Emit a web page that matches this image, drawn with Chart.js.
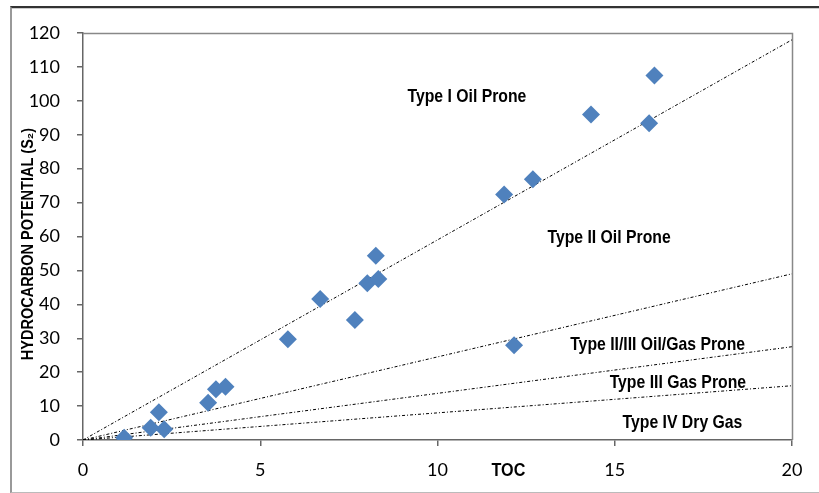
<!DOCTYPE html>
<html lang="en">
<head>
    <meta charset="UTF-8">
    <title>Hydrocarbon Potential vs TOC</title>
    <script src="https://cdn.jsdelivr.net/npm/chart.js"></script>
    <style>
        html, body { margin: 0; padding: 0; background: #fff; }
        #wrap { position: relative; width: 819px; height: 493px; overflow: hidden; }
        #frame { position: absolute; left: 10px; top: 6px; width: 900px; height: 484px;
                 border-top: 2px solid #333; border-left: 2px solid #999; border-bottom: 1px solid #bbb; }
        #frame2 { position: absolute; left: 12px; top: 8px; width: 900px; height: 0; border-top: 1px solid #ccc; }
        #chart { position: absolute; left: 0; top: 0; }
    </style>
</head>
<body>
<div id="wrap">
    <div id="frame"></div>
    <div id="frame2"></div>
    <canvas id="chart" width="819" height="493"></canvas>
</div>
<script>
    // sample points
    var toc = [1.16, 1.91, 2.14, 2.29, 3.53, 3.75, 4.02, 5.78, 6.69, 7.67, 8.02, 8.33, 8.26, 11.88, 12.69, 14.33, 15.97, 16.12, 12.16];
    var s2  = [0.7, 3.6, 8.2, 3.2, 11.0, 15.0, 15.7, 29.7, 41.6, 35.4, 46.2, 47.5, 54.3, 72.4, 76.9, 96.0, 93.4, 107.5, 27.9];

    // kerogen type boundary lines: from origin to S2 value at TOC = 20
    var boundaryToc = [0, 20];
    var boundaryEnds = [118, 49, 27.5, 16];

    var zoneNames = ['Type I Oil Prone', 'Type II Oil Prone', 'Type II/III Oil/Gas Prone', 'Type III Gas Prone', 'Type IV Dry Gas'];
    var zoneToc = [10.83, 14.84, 16.21, 16.78, 16.91];
    var zoneS2 = [101.1, 59.6, 28.0, 16.8, 5.0];

    var xTicks = [0, 5, 10, 15, 20];
    var yTicks = [0, 10, 20, 30, 40, 50, 60, 70, 80, 90, 100, 110, 120];

    var points = toc.map(function (t, i) { return { x: t, y: s2[i] }; });

    var datasets = [{
        label: 'Samples',
        data: points,
        pointStyle: 'rectRot',
        pointRadius: 9,
        pointBackgroundColor: '#4F81BD',
        pointBorderColor: '#4F81BD',
        pointBorderWidth: 0,
        showLine: false,
        order: 0
    }];
    boundaryEnds.forEach(function (end, i) {
        datasets.push({
            label: 'boundary ' + i,
            data: [{ x: boundaryToc[0], y: 0 }, { x: boundaryToc[1], y: end }],
            showLine: true,
            borderColor: '#000',
            borderWidth: 1,
            borderDash: [3, 2, 1, 2],
            pointRadius: 0,
            fill: false,
            order: 1
        });
    });

    // bold condensed text (no Arial Narrow here, so squeeze Liberation Sans)
    function narrowText(c, text, x, y, size, sx, angle) {
        c.save();
        c.translate(x, y);
        if (angle) c.rotate(angle);
        c.scale(sx, 1);
        c.font = 'bold ' + size + 'px "Liberation Sans", Arial, sans-serif';
        c.textAlign = 'center';
        c.textBaseline = 'middle';
        c.fillStyle = '#000';
        c.fillText(text, 0, 0);
        c.restore();
    }

    var extras = {
        id: 'extras',
        beforeDatasetsDraw: function (chart) {
            var c = chart.ctx, a = chart.chartArea;
            c.save();
            c.strokeStyle = '#888';
            c.lineWidth = 1.5;
            c.beginPath();
            c.moveTo(a.left, a.top + 0.5);
            c.lineTo(a.right + 0.5, a.top + 0.5);
            c.lineTo(a.right + 0.5, a.bottom);
            c.stroke();
            c.restore();
        },
        afterDatasetsDraw: function (chart) {
            var c = chart.ctx, a = chart.chartArea;
            var xs = chart.scales.x, ys = chart.scales.y;
            zoneNames.forEach(function (name, i) {
                narrowText(c, name, xs.getPixelForValue(zoneToc[i]), ys.getPixelForValue(zoneS2[i]), 19, 0.83);
            });
            narrowText(c, 'TOC', xs.getPixelForValue(12.0), a.bottom + 31, 19, 0.85);
            narrowText(c, 'HYDROCARBON POTENTIAL (S\u2082)', 28, 244, 16.5, 0.88, -Math.PI / 2);
        }
    };

    new Chart(document.getElementById('chart'), {
        type: 'scatter',
        data: { datasets: datasets },
        options: {
            responsive: false,
            animation: false,
            layout: { padding: { top: 33, right: 27, left: 0, bottom: 0 } },
            plugins: { legend: { display: false }, tooltip: { enabled: false } },
            scales: {
                x: {
                    type: 'linear',
                    min: 0, max: 20,
                    afterFit: function (s) { s.height = 53; },
                    afterBuildTicks: function (s) { s.ticks = xTicks.map(function (v) { return { value: v }; }); },
                    border: { color: '#666', width: 1.5 },
                    grid: { drawOnChartArea: false, drawTicks: true, tickLength: 6, color: '#666', lineWidth: 1.5 },
                    ticks: { color: '#000', padding: 13, font: { family: 'Lato', size: 18 } }
                },
                y: {
                    type: 'linear',
                    min: 0, max: 120,
                    afterFit: function (s) { s.width = 83; },
                    afterBuildTicks: function (s) { s.ticks = yTicks.map(function (v) { return { value: v }; }); },
                    border: { color: '#666', width: 1.5 },
                    grid: { drawOnChartArea: false, drawTicks: true, tickLength: 6, color: '#666', lineWidth: 1.5 },
                    ticks: { color: '#000', padding: 17, font: { family: 'Lato', size: 18 } }
                }
            }
        },
        plugins: [extras]
    });
</script>
</body>
</html>
